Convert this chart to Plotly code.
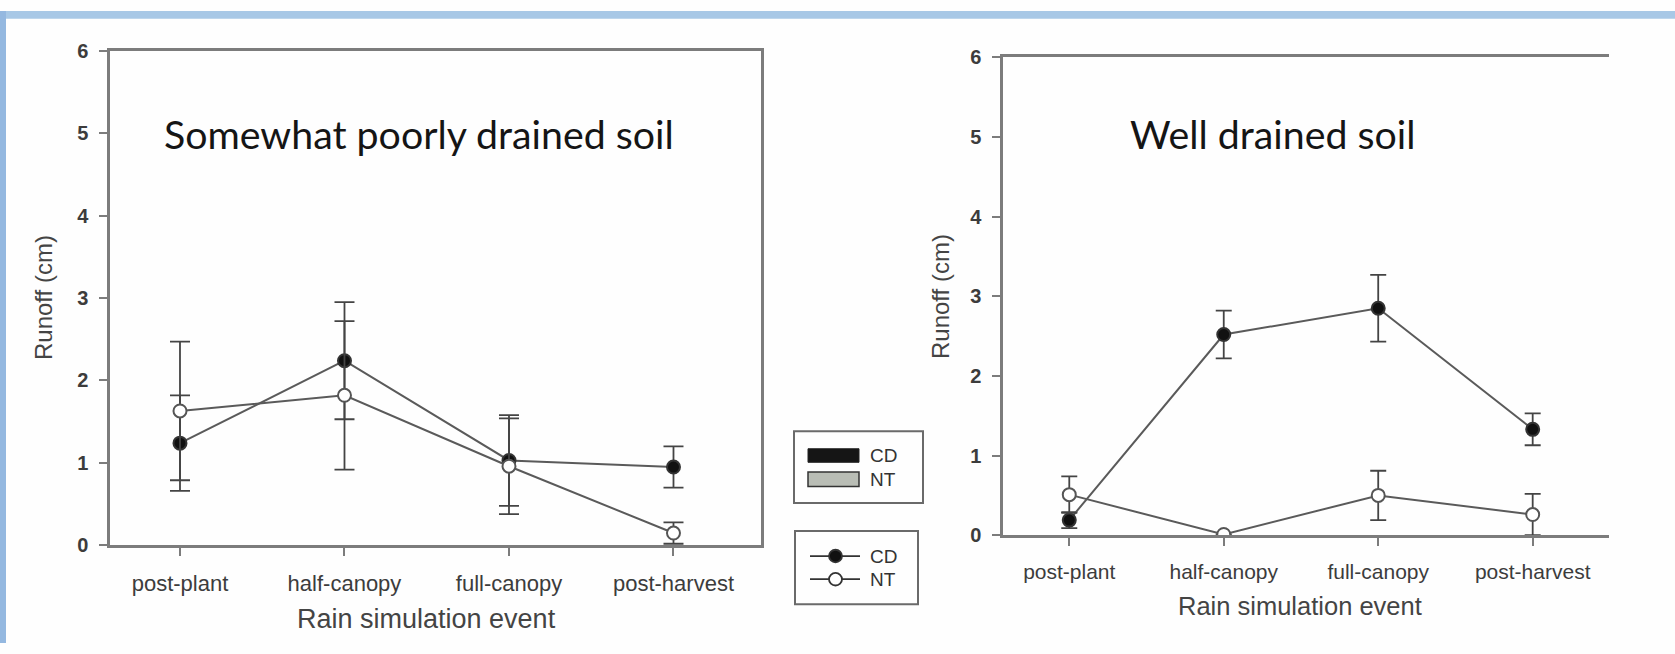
import plotly.graph_objects as go

# Rain simulation events and runoff (cm) for the two soils
events = ["post-plant", "half-canopy", "full-canopy", "post-harvest"]

poor_cd = [1.24, 2.24, 1.03, 0.95]
poor_cd_err = [0.58, 0.71, 0.55, 0.25]
poor_nt = [1.63, 1.82, 0.96, 0.15]
poor_nt_err = [0.84, 0.90, 0.58, 0.13]

well_cd = [0.19, 2.52, 2.85, 1.33]
well_cd_err = [0.10, 0.30, 0.42, 0.20]
well_nt = [0.51, 0.01, 0.50, 0.26]
well_nt_err = [0.23, 0.0, 0.31, 0.26]

W, H = 1675, 654


def px(x):
    return x / W


def py(y):
    return 1 - y / H


LINE = "#5a5a5a"
AXIS = "#7c7c7c"
TICKTXT = "#3c3c3c"

fig = go.Figure()

xs = list(range(len(events)))


def add_series(y, err, xa, ya, filled, cap):
    fig.add_trace(go.Scatter(
        x=xs, y=y, xaxis=xa, yaxis=ya, mode="lines+markers",
        line=dict(color=LINE, width=2),
        marker=dict(size=13, color="#111111" if filled else "#ffffff",
                    line=dict(color="#333333" if filled else "#555555", width=2)),
        error_y=dict(type="data", array=err, visible=True, color="#444444",
                     thickness=1.8, width=cap),
        showlegend=False, hoverinfo="skip",
    ))


add_series(poor_cd, poor_cd_err, "x", "y", True, 10)
add_series(poor_nt, poor_nt_err, "x", "y", False, 10)
add_series(well_cd, well_cd_err, "x2", "y2", True, 8)
add_series(well_nt, well_nt_err, "x2", "y2", False, 8)

tick_font_y = dict(family="Liberation Sans", size=20, color=TICKTXT, weight="bold")

common_x = dict(tickvals=xs, ticktext=events, ticks="outside", ticklen=8, tickwidth=2,
                tickcolor=AXIS, showline=True, linecolor=AXIS, linewidth=2.5,
                showgrid=False, zeroline=False, ticklabelstandoff=8)
common_y = dict(range=[0, 6], tickvals=[0, 1, 2, 3, 4, 5, 6], ticks="outside", ticklen=8,
                tickwidth=2, tickcolor=AXIS, showline=True, linecolor=AXIS, linewidth=2.5,
                showgrid=False, zeroline=False, tickfont=tick_font_y,
                ticklabelstandoff=7)

fig.update_layout(
    width=W, height=H, margin=dict(l=0, r=0, t=0, b=0),
    paper_bgcolor="#fefefe", plot_bgcolor="rgba(0,0,0,0)",
    xaxis=dict(domain=[px(110), px(761)], range=[-0.4255, 3.532], mirror=True,
               tickfont=dict(family="Liberation Sans", size=22, color=TICKTXT), **common_x),
    yaxis=dict(domain=[py(553), py(41)], anchor="x", mirror=True, **common_y),
    xaxis2=dict(domain=[px(1003), px(1609)], range=[-0.429, 3.494], anchor="y2",
                mirror=True,
                tickfont=dict(family="Liberation Sans", size=21, color=TICKTXT), **common_x),
    yaxis2=dict(domain=[py(542.5), py(48)], anchor="x2", mirror=False, **common_y),
)

shapes = []
# blue frame strips along the top and left edges
shapes.append(dict(type="rect", xref="paper", yref="paper", x0=0, x1=1, y0=py(8), y1=1,
                   fillcolor="#a8c8e6", line=dict(width=0), layer="below"))
shapes.append(dict(type="rect", xref="paper", yref="paper", x0=0, x1=px(6), y0=0, y1=1,
                   fillcolor="#94b8e0", line=dict(width=0), layer="below"))

# legend box with filled swatches
shapes.append(dict(type="rect", xref="paper", yref="paper", x0=px(794), x1=px(923),
                   y0=py(509), y1=py(435), line=dict(color="#6a6a6a", width=2)))
shapes.append(dict(type="rect", xref="paper", yref="paper", x0=px(808), x1=px(859),
                   y0=py(467), y1=py(453), fillcolor="#151515", line=dict(color="#222", width=1)))
shapes.append(dict(type="rect", xref="paper", yref="paper", x0=px(808), x1=px(859),
                   y0=py(492), y1=py(477), fillcolor="#b9bdb5", line=dict(color="#333", width=1.5)))

# legend box with line + marker keys
shapes.append(dict(type="rect", xref="paper", yref="paper", x0=px(795), x1=px(918),
                   y0=py(614), y1=py(538), line=dict(color="#6a6a6a", width=2)))
for yk, fill in ((564, "#111111"), (588, "#ffffff")):
    shapes.append(dict(type="line", xref="paper", yref="paper", x0=px(810), x1=px(860),
                       y0=py(yk), y1=py(yk), line=dict(color="#333", width=1.8)))
    shapes.append(dict(type="circle", xref="paper", yref="paper", x0=px(829), x1=px(842),
                       y0=py(yk + 6.5), y1=py(yk - 6.5), fillcolor=fill,
                       line=dict(color="#333", width=1.8)))

fig.update_layout(shapes=shapes)

ann = []
title_font = dict(family="Lato", size=39.3, color="#151515")
ann.append(dict(text="Somewhat poorly drained soil", x=px(162), y=py(127), xref="paper",
                yref="paper", xanchor="left", yanchor="middle", showarrow=False, font=title_font))
ann.append(dict(text="Well drained soil", x=px(1128), y=py(127), xref="paper",
                yref="paper", xanchor="left", yanchor="middle", showarrow=False, font=title_font))

axis_title_font = dict(family="Liberation Sans", size=24, color="#444444")
ann.append(dict(text="Runoff (cm)", x=px(43), y=py(297), xref="paper", yref="paper",
                textangle=-90, showarrow=False, xanchor="center", yanchor="middle",
                font=axis_title_font))
ann.append(dict(text="Runoff (cm)", x=px(940), y=py(296), xref="paper", yref="paper",
                textangle=-90, showarrow=False, xanchor="center", yanchor="middle",
                font=axis_title_font))
ann.append(dict(text="Rain simulation event", x=px(427), y=py(629), xref="paper",
                yref="paper", showarrow=False, xanchor="center", yanchor="middle",
                font=dict(family="Liberation Sans", size=27, color="#444444")))
ann.append(dict(text="Rain simulation event", x=px(1300), y=py(616), xref="paper",
                yref="paper", showarrow=False, xanchor="center", yanchor="middle",
                font=dict(family="Liberation Sans", size=25.5, color="#444444")))

legend_font = dict(family="Liberation Sans", size=19, color="#333333")
for label, yk in (("CD", 460), ("NT", 485), ("CD", 564), ("NT", 588)):
    ann.append(dict(text=label, x=px(868), y=py(yk), xref="paper", yref="paper",
                    xanchor="left", yanchor="middle", showarrow=False, font=legend_font))

fig.update_layout(annotations=ann)

fig.write_html("out.html")
